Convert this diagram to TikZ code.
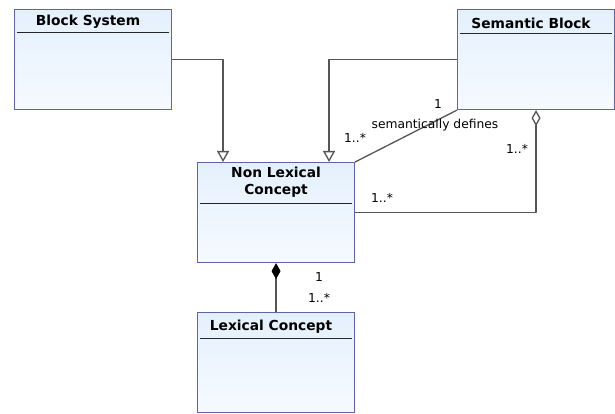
\documentclass[tikz,border=0pt]{standalone}
\usepackage{fontspec}
\setmainfont{DejaVu Sans}
\usepackage{xcolor}
\usetikzlibrary{arrows.meta,positioning}
\definecolor{umlborder}{RGB}{98,98,168}
\definecolor{umltop}{RGB}{228,240,253}
\definecolor{umlbottom}{RGB}{246,250,255}
\definecolor{connline}{RGB}{85,85,85}

\begin{document}
\begin{tikzpicture}[
    x=1pt, y=-1pt,
    classbox/.style={
        draw=umlborder,
        top color=umltop,
        bottom color=umlbottom,
        anchor=north west,
        line width=1.1pt,
        inner sep=0pt,
        minimum width=157pt,
        minimum height=100pt
    },
    classname/.style={
        font=\bfseries\fontsize{13.8}{17.5}\selectfont,
        align=center,
        inner sep=0pt
    },
    headline/.style={draw=black!85, line width=1pt},
    conn/.style={draw=connline, line width=1.3pt, line join=round},
    inherit/.style={conn, -{Triangle[open, length=11pt, width=12pt, fill=white]}},
    aggreg/.style={conn, -{Diamond[open, length=16pt, width=9pt, fill=white]}},
    compos/.style={conn, -{Diamond[length=16pt, width=9pt, color=black]}},
    mult/.style={font=\fontsize{12.3}{14}\selectfont, inner sep=0pt}
]
\useasboundingbox[fill=white] (0,0) rectangle (615,414);

% classes
\node[classbox] (blocksys) at (14,9) {};
\node[classbox] (semblock) at (457,9) {};
\node[classbox] (nonlex) at (197,162) {};
\node[classbox] (lexcon) at (197,312) {};

% class names and header lines
\node[classname] at ([xshift=-5pt, yshift=-13pt]blocksys.north) {Block System};
\draw[headline] ([xshift=3pt, yshift=-24pt]blocksys.north west) -- ([xshift=-3pt, yshift=-24pt]blocksys.north east);
\node[classname] at ([xshift=-5pt, yshift=-14pt]semblock.north) {Semantic Block};
\draw[headline] ([xshift=3pt, yshift=-25pt]semblock.north west) -- ([xshift=-3pt, yshift=-25pt]semblock.north east);
\node[classname] at ([yshift=-20pt]nonlex.north) {Non Lexical\\Concept};
\draw[headline] ([xshift=3pt, yshift=-41pt]nonlex.north west) -- ([xshift=-3pt, yshift=-41pt]nonlex.north east);
\node[classname] at ([xshift=-5pt, yshift=-15pt]lexcon.north) {Lexical Concept};
\draw[headline] ([xshift=3pt, yshift=-26pt]lexcon.north west) -- ([xshift=-3pt, yshift=-26pt]lexcon.north east);

% generalizations
\draw[inherit] (blocksys.east) -| ([xshift=-53pt]nonlex.north);
\draw[inherit] (semblock.west) -| ([xshift=53pt]nonlex.north);

% association
\draw[conn] (nonlex.north east) -- (semblock.south west);
\node[mult] at (438,104) {1};
\node[mult] at (435,125) {semantically defines};
\node[mult] at (355,138) {1..*};

% aggregation
\draw[aggreg] (nonlex.east) -| (semblock.south);
\node[mult] at (517,149) {1..*};
\node[mult] at (382,198) {1..*};

% composition
\draw[compos] (lexcon.north) -- (nonlex.south);
\node[mult] at (319,277) {1};
\node[mult] at (319,298) {1..*};
\end{tikzpicture}
\end{document}
